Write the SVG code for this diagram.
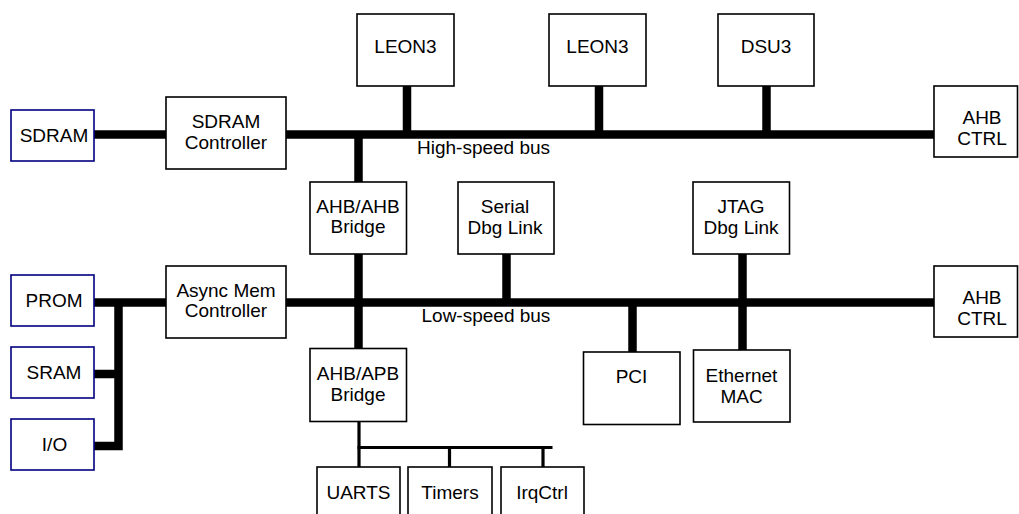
<svg xmlns="http://www.w3.org/2000/svg" width="1019" height="514" viewBox="0 0 1019 514">
<style>
  .box { fill: #ffffff; stroke: #000000; stroke-width: 1.6; }
  .mem { fill: #ffffff; stroke: #000080; stroke-width: 1.6; }
  .bus { fill: none; stroke: #000000; stroke-width: 8.5; stroke-linecap: butt; stroke-linejoin: miter; }
  .apb { fill: none; stroke: #000000; stroke-width: 3.2; stroke-linecap: butt; }
  text { font-family: "Liberation Sans", Arial, sans-serif; font-size: 19px; fill: #000000; text-anchor: middle; }
  .lbl { text-anchor: start; }
</style>
<rect width="1019" height="514" fill="#ffffff"/>

<g id="connectors">
  <!-- high-speed bus -->
  <path class="bus" d="M94,134.5 H166"/>
  <path class="bus" d="M286,134.5 H934"/>
  <path class="bus" d="M407,86 V134.5"/>
  <path class="bus" d="M599,86 V134.5"/>
  <path class="bus" d="M766.5,86 V134.5"/>
  <path class="bus" d="M358.5,134.5 V182"/>
  <!-- low-speed bus -->
  <path class="bus" d="M94,302.5 H166"/>
  <path class="bus" d="M286,302.5 H934"/>
  <path class="bus" d="M358.5,254 V348.5"/>
  <path class="bus" d="M506.5,254 V302.5"/>
  <path class="bus" d="M632.5,302.5 V352"/>
  <path class="bus" d="M742.5,254 V350"/>
  <!-- async memory bus -->
  <path class="bus" d="M94,446 H118.5 V302.5"/>
  <path class="bus" d="M94,374 H118.5"/>
  <!-- APB bus -->
  <path class="apb" d="M359,422 V447.5"/>
  <path class="apb" d="M357.5,447.5 H552.5"/>
  <path class="apb" d="M359,447.5 V467"/>
  <path class="apb" d="M449.5,447.5 V467"/>
  <path class="apb" d="M543,447.5 V467"/>
  <text class="lbl" x="417" y="154">High-speed bus</text>
  <text class="lbl" x="421.5" y="321.5">Low-speed bus</text>
</g>

<g id="sdram"><rect class="mem" x="11" y="110" width="83" height="51"/><text x="54" y="142">SDRAM</text></g>
<g id="sdram-ctrl"><rect class="box" x="166" y="97" width="120" height="72"/><text x="226" y="128">SDRAM</text><text x="226" y="148.5">Controller</text></g>
<g id="leon3-1"><rect class="box" x="357" y="14" width="97" height="72"/><text x="405.5" y="53.3">LEON3</text></g>
<g id="leon3-2"><rect class="box" x="549" y="14" width="97" height="72"/><text x="597.5" y="53.3">LEON3</text></g>
<g id="dsu3"><rect class="box" x="718" y="14" width="96" height="72"/><text x="766" y="53.3">DSU3</text></g>
<g id="ahb-ctrl-1"><rect class="box" x="934" y="86" width="83.5" height="71"/><text x="982" y="124.4">AHB</text><text x="982" y="144.9">CTRL</text></g>

<g id="ahb-ahb-bridge"><rect class="box" x="310" y="182" width="96.5" height="72"/><text x="358" y="212.8">AHB/AHB</text><text x="358" y="233.3">Bridge</text></g>
<g id="serial-dbg"><rect class="box" x="458" y="182" width="96" height="72"/><text x="505" y="213.3">Serial</text><text x="505" y="234.3">Dbg Link</text></g>
<g id="jtag-dbg"><rect class="box" x="693" y="182" width="96.5" height="72"/><text x="741" y="213.3">JTAG</text><text x="741" y="234.3">Dbg Link</text></g>

<g id="prom"><rect class="mem" x="11" y="275" width="83" height="51"/><text x="54" y="306.7">PROM</text></g>
<g id="async-mem-ctrl"><rect class="box" x="166" y="266" width="120" height="72"/><text x="226" y="296.7">Async Mem</text><text x="226" y="316.7">Controller</text></g>
<g id="ahb-ctrl-2"><rect class="box" x="934" y="266" width="83.5" height="71"/><text x="982" y="304.4">AHB</text><text x="982" y="324.9">CTRL</text></g>

<g id="sram"><rect class="mem" x="11" y="347" width="83" height="51"/><text x="54" y="379.3">SRAM</text></g>
<g id="io"><rect class="mem" x="11" y="419" width="83" height="51"/><text x="54.5" y="451">I/O</text></g>

<g id="ahb-apb-bridge"><rect class="box" x="310" y="348.5" width="96.5" height="73"/><text x="358" y="380.4">AHB/APB</text><text x="358" y="400.9">Bridge</text></g>
<g id="pci"><rect class="box" x="583.5" y="352" width="96.5" height="72.5"/><text x="631.5" y="382.7">PCI</text></g>
<g id="ethernet-mac"><rect class="box" x="693.5" y="350" width="96.5" height="72"/><text x="741.5" y="381.7">Ethernet</text><text x="741.5" y="402.7">MAC</text></g>

<g id="uarts"><rect class="box" x="317" y="467" width="83" height="60"/><text x="358.5" y="499">UARTS</text></g>
<g id="timers"><rect class="box" x="408" y="467" width="84" height="60"/><text x="450" y="499">Timers</text></g>
<g id="irqctrl"><rect class="box" x="501" y="467" width="83" height="60"/><text x="542" y="499">IrqCtrl</text></g>
</svg>
